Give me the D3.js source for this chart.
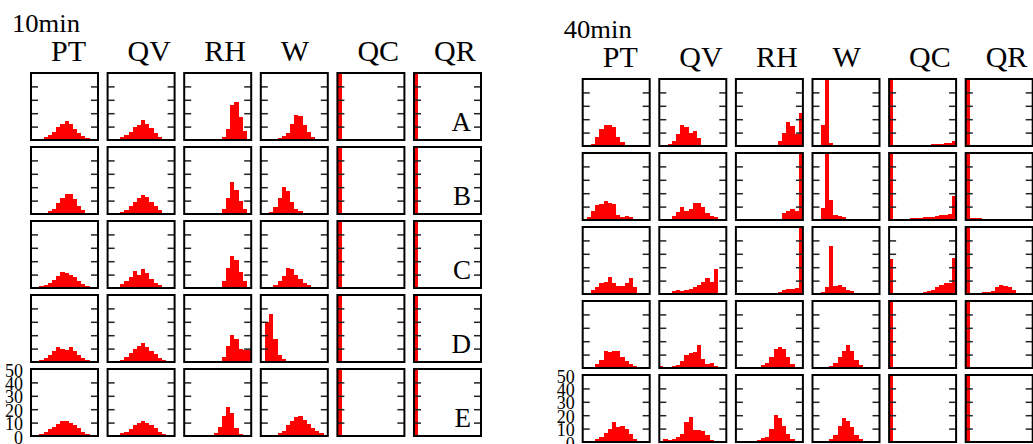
<!DOCTYPE html>
<html>
<head>
<meta charset="utf-8">
<script src="https://cdn.jsdelivr.net/npm/d3@7"></script>
<style>
  body { margin: 0; background: #fff; }
  text { font-family: "Liberation Serif", "Times New Roman", serif; fill: #000; }
</style>
</head>
<body>
<div id="chart"></div>
<script>
// histogram counts, 16 bins per cell, rows A..E (top to bottom)
const variables = ["PT", "QV", "RH", "W", "QC", "QR"];
const rowLabels = ["A", "B", "C", "D", "E"];
const yLabels = [0, 10, 20, 30, 40, 50];
const innerTicks = [10, 20, 30, 40];
const nBins = 16;

// ---- 10min
const pt10 = [
  [0.3, 0.8, 1, 2, 4, 6, 10, 12, 14, 12, 8, 5, 3, 1.5, 1, 0.5],
  [0.3, 0.5, 0.8, 1, 2, 4, 8, 12, 15, 15, 11, 6, 3, 1, 0.5, 0.3],
  [0.3, 0.8, 1.5, 2.5, 4, 6, 9, 12, 11, 10, 8, 5, 3, 1.5, 0.8, 0.3],
  [0.3, 0.8, 1.5, 3, 5, 8, 11, 10, 9, 11, 8, 5, 3, 1.5, 0.8, 0.3],
  [0.3, 0.5, 1.5, 3, 5, 7, 9, 11, 11, 10, 8, 6, 3, 1.5, 0.8, 0.3]
];
const qv10 = [
  [0.5, 0.5, 1, 2, 4, 6, 10, 11, 15, 12, 9, 5, 2, 1, 0.5, 0.3],
  [0.3, 0.5, 1, 1.5, 3, 6, 9, 12, 14, 13, 9, 6, 3, 1, 0.5, 0.3],
  [0.3, 0.5, 1, 3, 5, 8, 13, 10, 14, 11, 7, 4, 2, 1, 0.5, 0.3],
  [0.3, 0.5, 0.8, 1.5, 4, 7, 10, 12, 14, 11, 8, 6, 3, 1.5, 0.8, 0.3],
  [0.3, 0.5, 0.8, 2, 3, 5, 8, 10, 11, 10, 8, 6, 3, 1.5, 1, 0.8]
];
const rh10 = [
  [0, 0, 0, 0, 0, 0, 0, 0, 0.5, 2, 8, 26, 28, 17, 7, 1],
  [0, 0, 0, 0, 0, 0, 0, 0.2, 1, 4, 12, 24, 18, 10, 4, 0.8],
  [0, 0, 0, 0, 0, 0, 0, 0.3, 1, 5, 15, 24, 21, 12, 5, 1],
  [0, 0, 0, 0, 0, 0, 0, 0.3, 1, 4, 12, 20, 17, 10, 9, 9],
  [0, 0, 0, 0, 0, 0.2, 0.5, 2, 7, 15, 22, 17, 6, 1.5, 0.5, 0.2]
];
const w10 = [
  [0, 0, 0.3, 1, 1.5, 3, 5, 12, 19, 18, 11, 6, 2, 1, 0.5, 0.3],
  [0.2, 0.5, 1.5, 5, 12, 20, 17, 9, 4, 2, 0.5, 0.3, 0.2, 0, 0, 0],
  [0.2, 0.3, 1, 2, 5, 9, 15, 14, 10, 7, 4, 2, 1, 0.5, 0.3, 0.2],
  [0, 30, 36, 17, 5, 2, 1, 0.5, 0.3, 0.3, 0.2, 0.2, 0.1, 0, 0, 0],
  [0.2, 0.3, 0.5, 1, 2, 4, 8, 11, 14, 15, 12, 9, 6, 4, 2, 1]
];
const qc10 = [
  [50, 0.2, 0, 0, 0, 0, 0, 0, 0, 0, 0, 0, 0, 0, 0, 0],
  [50, 0.2, 0, 0, 0, 0, 0, 0, 0, 0, 0, 0, 0, 0, 0, 0],
  [50, 0.2, 0, 0, 0, 0, 0, 0, 0, 0, 0, 0, 0, 0, 0, 0],
  [50, 0.3, 0.5, 0.5, 0.5, 0.5, 0.5, 0.6, 0.8, 0.6, 0.5, 0.5, 0.3, 0.3, 0.2, 0.2],
  [50, 0.2, 0, 0, 0, 0, 0, 0, 0, 0, 0, 0, 0, 0, 0, 0]
];
const qr10 = [
  [50, 0, 0, 0, 0, 0, 0, 0, 0, 0, 0, 0, 0, 0, 0, 0],
  [50, 0, 0, 0, 0, 0, 0, 0, 0, 0, 0, 0, 0, 0, 0, 0],
  [50, 0, 0, 0, 0, 0, 0, 0, 0, 0, 0, 0, 0, 0, 0, 0],
  [50, 0, 0, 0, 0, 0, 0, 0, 0, 0, 0, 0, 0, 0, 0, 0],
  [50, 0, 0, 0, 0, 0, 0, 0, 0, 0, 0, 0, 0, 0, 0, 0]
];

// ---- 40min
const pt40 = [
  [0.3, 0.5, 1.5, 7, 13, 16, 16, 14, 7, 3, 0.5, 0.3, 0.3, 0.2, 0.2, 0.1],
  [0.5, 2, 7, 11, 12, 14, 13, 12, 4, 2, 3, 2, 0.5, 0.3, 0.3, 0.3],
  [0.5, 1, 3, 5, 8, 9, 13, 8, 6, 6, 8, 12, 5, 0.5, 0.3, 0.3],
  [0.3, 0.5, 1, 3, 6, 13, 12, 13, 13, 8, 5, 3, 1.5, 0.5, 0.3, 0.2],
  [0.3, 0.5, 1, 2.5, 4, 7, 10, 15, 11, 12, 10, 6, 2.5, 1, 0.5, 0.2]
];
const qv40 = [
  [0.3, 0.5, 1.5, 4, 9, 16, 14, 10, 11, 6, 1, 0.5, 0.3, 0.3, 0.2, 0.2],
  [0.3, 0.5, 1, 3, 6, 10, 7, 8, 13, 13, 10, 5, 3, 2, 0.5, 0.3],
  [0.3, 0.5, 1, 2, 3, 2.5, 3, 3.5, 5, 7, 9, 12, 9, 19, 1, 0.3],
  [1.5, 0.5, 1, 1.5, 2, 5, 10, 11, 12, 17, 7, 3, 4, 1.5, 0.5, 0.3],
  [0.5, 2, 1.5, 2.5, 4, 6, 15, 19, 9, 9, 8, 5, 1.5, 0.5, 0.3, 0.3]
];
const rh40 = [
  [0, 0, 0, 0, 0, 0, 0, 0, 0.3, 1, 4, 10, 18, 15, 9, 25],
  [0, 0, 0, 0, 0, 0, 0, 0, 0, 0.5, 1, 5, 7, 8, 7, 50],
  [0, 0, 0, 0, 0, 0, 0, 0, 0, 0.5, 1.5, 3, 4, 4, 4.5, 50],
  [0, 0, 0, 0, 0, 0.5, 2, 4, 8, 14, 16, 14, 8, 3, 1, 0.5],
  [0, 0, 0, 0, 0.5, 1.5, 3, 4, 10, 20, 18, 12, 6, 2, 0.5, 0.3]
];
const w40 = [
  [0, 0.5, 16, 50, 2, 1, 0.5, 0.5, 0.5, 0.3, 0.3, 0.3, 0.3, 0.2, 0.2, 0.2],
  [0.2, 0.5, 9, 50, 15, 4, 3, 2, 1, 0.5, 0.3, 0.3, 0.2, 0.2, 0.2, 0.2],
  [0.3, 0.5, 1.5, 5, 36, 6, 7, 5, 3, 2, 1, 0.5, 0.3, 0.3, 0.2, 0.2],
  [0.2, 0.3, 0.5, 0.5, 1.5, 4, 8, 13, 17, 13, 6, 2, 1, 1, 0.3, 0.2],
  [0.3, 0.5, 1, 1, 2.5, 5, 12, 18, 16, 11, 5, 2, 1, 0.8, 0.3, 0.2]
];
const qc40 = [
  [50, 0.2, 0.2, 0.2, 0.2, 0.5, 0.8, 0.8, 0.8, 1, 1.5, 1.5, 1.5, 2, 2.5, 4],
  [50, 0.5, 1, 1, 1, 1.3, 1.5, 1.5, 2, 2.5, 2.5, 3, 3.5, 4, 4.5, 18],
  [26, 0.3, 0.3, 0.3, 0.5, 0.8, 1, 1, 1.2, 2, 3, 5, 7, 8, 8, 27],
  [50, 0, 0, 0, 0, 0, 0.3, 0, 0, 0, 0, 0, 0, 0, 0, 0],
  [50, 0, 0, 0, 0, 0, 0, 0, 0, 0, 0, 0, 0, 0, 0, 0]
];
const qr40 = [
  [50, 0.5, 0.3, 0.2, 0.2, 0.1, 0, 0, 0, 0, 0, 0, 0, 0, 0, 0],
  [50, 1.5, 1.5, 1.5, 0.5, 0.3, 0.2, 0.2, 0, 0, 0, 0, 0, 0, 0, 0],
  [50, 1, 1, 1, 1.5, 1.5, 2, 5, 7, 6, 5, 3, 0.5, 0.3, 0.3, 0.2],
  [50, 0, 0, 0, 0, 0, 0, 0, 0, 0, 0, 0, 0, 0, 0, 0],
  [50, 0, 0, 0, 0, 0, 0, 0, 0, 0, 0, 0, 0, 0, 0, 0]
];

const panels = [
  { title: "10min", x0: 31, y0: 73, letters: true, data: [pt10, qv10, rh10, w10, qc10, qr10] },
  { title: "40min", x0: 582.7, y0: 79, letters: false, data: [pt40, qv40, rh40, w40, qc40, qr40] }
];

const w = 1033, h = 444;
const cellW = 67, cellH = 67;
const colStep = 76.6, rowStep = 74;

const svg = d3.select("#chart")
              .append("svg")
              .attr("width", w)
              .attr("height", h);

const x = d3.scaleLinear().domain([0, nBins]).range([0, cellW]);
const y = d3.scaleLinear().domain([0, 50]).range([cellH, 0]).clamp(true);

function tickStyle(a) {
  a.select(".domain").remove();
  a.selectAll(".tick line").attr("stroke", "#222").attr("stroke-width", 1.5);
}

panels.forEach(p => {
  const g = svg.append("g").attr("transform", "translate(" + p.x0 + "," + p.y0 + ")");

  g.append("text")
   .attr("x", -19)
   .attr("y", -41)
   .attr("font-size", 25)
   .attr("textLength", 68)
   .attr("lengthAdjust", "spacingAndGlyphs")
   .text(p.title);

  variables.forEach((v, j) => {
    g.append("text")
     .attr("x", j * colStep + 20)
     .attr("y", -12)
     .attr("font-size", 30)
     .text(v);

    p.data[j].forEach((vals, i) => {
      const c = g.append("g")
                 .attr("transform", "translate(" + (j * colStep) + "," + (i * rowStep) + ")");

      c.selectAll("rect.bar")
       .data(vals)
       .join("rect")
       .attr("class", "bar")
       .attr("x", (d, k) => x(k))
       .attr("width", x(1) - x(0))
       .attr("y", d => y(d))
       .attr("height", d => cellH - y(d))
       .attr("fill", "#ff0000")
       .attr("shape-rendering", "crispEdges");

      c.append("g")
       .call(d3.axisLeft(y).tickValues(innerTicks).tickSize(-7).tickFormat(""))
       .call(tickStyle);

      c.append("g")
       .attr("transform", "translate(" + cellW + ",0)")
       .call(d3.axisRight(y).tickValues(innerTicks).tickSize(-7).tickFormat(""))
       .call(tickStyle);

      c.append("rect")
       .attr("width", cellW)
       .attr("height", cellH)
       .attr("fill", "none")
       .attr("stroke", "#000")
       .attr("stroke-width", 2);

      if (p.letters && j === variables.length - 1) {
        c.append("text")
         .attr("x", cellW - 10)
         .attr("y", cellH - 9)
         .attr("text-anchor", "end")
         .attr("font-size", 27)
         .text(rowLabels[i]);
      }

      if (i === rowLabels.length - 1 && j === 0) {
        const ax = c.append("g")
                    .call(d3.axisLeft(y).tickValues(yLabels).tickSize(0).tickPadding(8));
        ax.select(".domain").remove();
        ax.selectAll("text")
          .attr("font-size", 18)
          .attr("font-family", "Liberation Serif")
          .attr("dy", 7);
      }
    });
  });
});
</script>
</body>
</html>
